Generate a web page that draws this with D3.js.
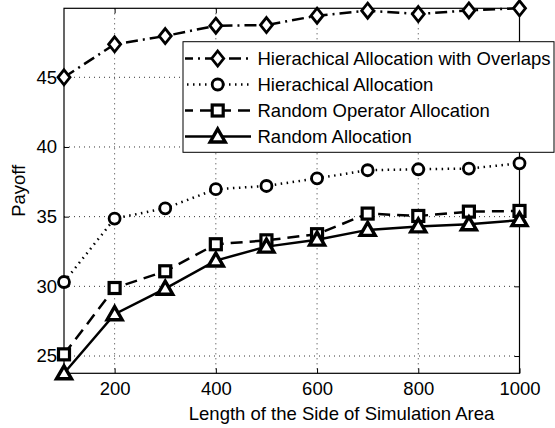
<!DOCTYPE html>
<html><head><meta charset="utf-8">
<script src="https://cdn.jsdelivr.net/npm/d3@7"></script>
<style>body{margin:0;background:#fff}svg{display:block}text{font-family:"Liberation Sans",Arial,sans-serif;fill:#000}</style>
</head><body><svg id="c" width="555" height="428"></svg>
<script>
const xVals = [100,200,300,400,500,600,700,800,900,1000];
const hao = [45.0,47.37,47.96,48.7,48.75,49.42,49.78,49.54,49.8,49.95];
const ha  = [30.31,34.86,35.6,36.97,37.2,37.75,38.33,38.4,38.45,38.83];
const roa = [25.12,29.88,31.08,33.02,33.3,33.74,35.22,35.05,35.36,35.41];
const ra  = [23.76,28.0,29.83,31.85,32.85,33.35,34.05,34.3,34.45,34.75];
const seriesNames = ["Hierachical Allocation with Overlaps","Hierachical Allocation","Random Operator Allocation","Random Allocation"];
const xTicks = [200,400,600,800,1000];
const yTicks = [25,30,35,40,45];
const xLabel = "Length of the Side of Simulation Area";
const yLabel = "Payoff";

const FS = 18.5;
const svg = d3.select("#c");
const L=64, R=519.5, T=8.3, B=373.3;
const x = d3.scaleLinear().domain([100,1000]).range([L,R]);
const y = d3.scaleLinear().domain([23.76,49.95]).range([B,T]);

// grid
const g = svg.append("g");
g.selectAll(".gx").data(xTicks.filter(d=>d<1000)).join("line")
 .attr("x1",d=>x(d)).attr("x2",d=>x(d)).attr("y1",T).attr("y2",B)
 .attr("stroke","#000").attr("stroke-width",0.8).attr("stroke-dasharray","1,4");
g.selectAll(".gy").data(yTicks).join("line")
 .attr("y1",d=>y(d)).attr("y2",d=>y(d)).attr("x1",L).attr("x2",R)
 .attr("stroke","#000").attr("stroke-width",0.8).attr("stroke-dasharray","1,4");

// axes
svg.append("g").attr("transform",`translate(0,${B})`)
 .call(d3.axisBottom(x).tickValues(xTicks).tickSize(-5).tickPadding(9).tickFormat(d3.format("d")));
svg.append("g").attr("transform",`translate(${L},0)`)
 .call(d3.axisLeft(y).tickValues(yTicks).tickSize(-5).tickPadding(7).tickFormat(d3.format("d")));
svg.append("g").attr("transform",`translate(0,${T})`)
 .call(d3.axisTop(x).tickValues(xTicks).tickSize(-5).tickFormat(""));
svg.append("g").attr("transform",`translate(${R},0)`)
 .call(d3.axisRight(y).tickValues(yTicks).tickSize(-5).tickFormat(""));
svg.selectAll(".domain").remove();
svg.selectAll(".tick line").attr("stroke","#000").attr("stroke-width",1);
svg.selectAll(".tick text").attr("font-size",FS).style("font-family","Liberation Sans, Arial, sans-serif");
svg.append("rect").attr("x",L).attr("y",T).attr("width",R-L).attr("height",B-T)
 .attr("fill","none").attr("stroke","#000").attr("stroke-width",1.2);

svg.append("text").attr("x",341.5).attr("y",420).attr("text-anchor","middle").attr("font-size",FS).text(xLabel);
svg.append("text").attr("transform",`translate(25,${(T+B)/2}) rotate(-90)`).attr("text-anchor","middle").attr("font-size",FS).text(yLabel);

const series = [
 {v:hao, dash:"12,5,2,5", m:"diamond"},
 {v:ha, dash:"1.5,4.5", m:"circle"},
 {v:roa, dash:"12,7", m:"square"},
 {v:ra, dash:null, m:"triangle"}
];
function marker(sel, type){
  if(type==="diamond") sel.append("path").attr("d","M0,-7.5L6,0L0,7.5L-6,0Z");
  else if(type==="circle") sel.append("circle").attr("r",5.5);
  else if(type==="square") sel.append("rect").attr("x",-5.5).attr("y",-5.5).attr("width",11).attr("height",11);
  else sel.append("path").attr("d","M0,-7.5L7.5,5.5L-7.5,5.5Z");
  sel.selectAll("*").attr("fill","#fff").attr("stroke","#000").attr("stroke-width",type==="triangle"?3.4:(type==="square"?3.2:2.8));
}
const line = d3.line().x((d,i)=>x(xVals[i])).y(d=>y(d));
series.forEach(s=>{
  svg.append("path").attr("d",line(s.v)).attr("fill","none").attr("stroke","#000")
   .attr("stroke-width",2.5).attr("stroke-dasharray",s.dash);
  svg.append("g").selectAll("g").data(s.v).join("g")
   .attr("transform",(d,i)=>`translate(${x(xVals[i])},${y(d)})`)
   .each(function(){marker(d3.select(this),s.m);});
});

// legend
const lg = svg.append("g");
lg.append("rect").attr("x",183).attr("y",41.7).attr("width",371).attr("height",110.6)
 .attr("fill","#fff").attr("stroke","#000").attr("stroke-width",1);
series.forEach((s,i)=>{
  const cy = 58.5 + i*26;
  lg.append("line").attr("x1",185).attr("x2",251).attr("y1",cy).attr("y2",cy)
   .attr("stroke","#000").attr("stroke-width",2.5).attr("stroke-dasharray",s.dash)
   .attr("stroke-dashoffset", s.dash ? 4 : 0);
  const mg = lg.append("g").attr("transform",`translate(217.7,${cy})`);
  marker(mg, s.m);
  lg.append("text").attr("x",257.5).attr("y",cy+6.5).attr("font-size",FS).text(seriesNames[i]);
});
</script></body></html>
